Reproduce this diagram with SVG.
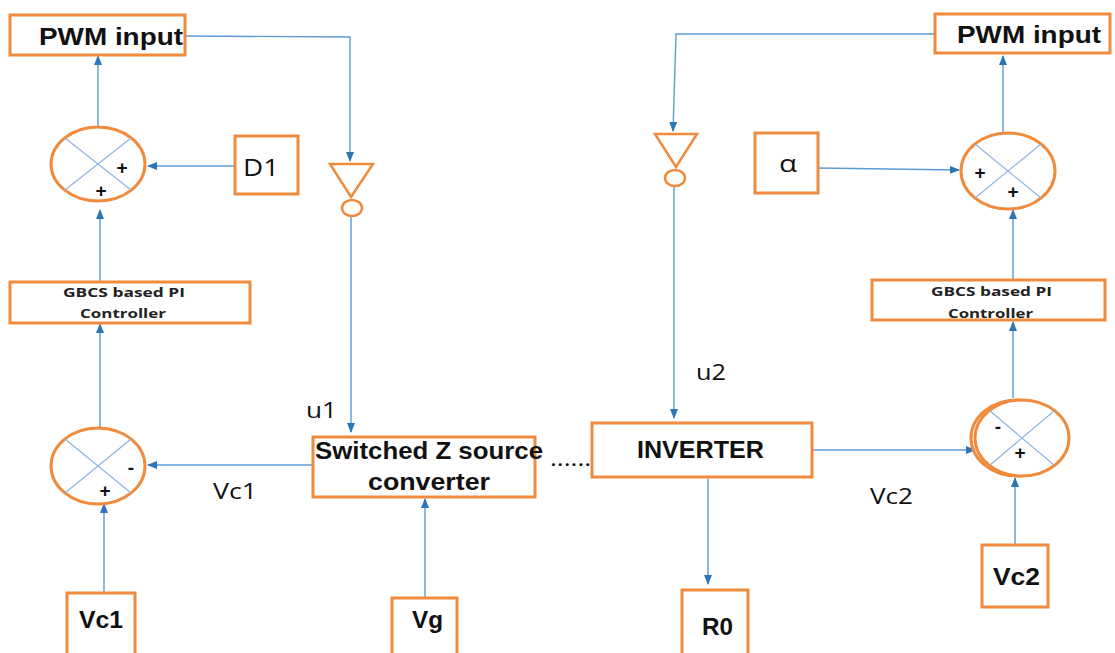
<svg xmlns="http://www.w3.org/2000/svg" width="1115" height="653" viewBox="0 0 1115 653">
  <style>
    .box{fill:#fff;stroke:#F08A3C;stroke-width:3}
    .sum{fill:#fff;stroke:#F08A3C;stroke-width:3}
    .x{stroke:#8DB4E2;stroke-width:1.2}
    .wire{fill:none;stroke:#5B9BD5;stroke-width:1.4}
    .big{font-family:"Liberation Sans",Arial,sans-serif;font-weight:bold;font-size:23px;fill:#111}
    .mid{font-family:"Open Sans","Liberation Sans",sans-serif;font-size:24px;fill:#111}
    .small{font-family:"Open Sans","Liberation Sans",sans-serif;font-weight:bold;font-size:12px;fill:#222}
    .sign{font-family:"Liberation Sans",Arial,sans-serif;font-weight:bold;font-size:19px;fill:#111;text-anchor:middle}
    .lbl{font-family:"Open Sans","Liberation Sans",sans-serif;font-size:22px;fill:#111}
  </style>
  <defs>
    <marker id="arr" markerWidth="10" markerHeight="8" refX="9" refY="4" orient="auto" markerUnits="userSpaceOnUse">
      <path d="M0,0 L10,4 L0,8 Z" fill="#2E75B6"/>
    </marker>
  </defs>
  <rect width="1115" height="653" fill="#fff"/>

  <!-- connectors -->
  <g id="connectors">
    <path class="wire" d="M185,36 L350,37 L350,161" marker-end="url(#arr)"/>
    <path class="wire" d="M351,217 L351,432" marker-end="url(#arr)"/>
    <path class="wire" d="M235,166 L148,166" marker-end="url(#arr)"/>
    <path class="wire" d="M98,126 L98,56" marker-end="url(#arr)"/>
    <path class="wire" d="M100,282 L100,210" marker-end="url(#arr)"/>
    <path class="wire" d="M100,428 L100,324" marker-end="url(#arr)"/>
    <path class="wire" d="M313,465 L148,465" marker-end="url(#arr)"/>
    <path class="wire" d="M104,592 L104,504" marker-end="url(#arr)"/>
    <path class="wire" d="M425,597 L425,499" marker-end="url(#arr)"/>
    <path class="wire" d="M708,479 L708,584" marker-end="url(#arr)"/>
    <path class="wire" d="M935,34 L676,34 L673,131" marker-end="url(#arr)"/>
    <path class="wire" d="M674,187 L674,418" marker-end="url(#arr)"/>
    <path class="wire" d="M812,450 L975,450" marker-end="url(#arr)"/>
    <path class="wire" d="M818,168 L959,170" marker-end="url(#arr)"/>
    <path class="wire" d="M1003,133 L1003,56" marker-end="url(#arr)"/>
    <path class="wire" d="M1013,280 L1013,210" marker-end="url(#arr)"/>
    <path class="wire" d="M1013,398 L1013,322" marker-end="url(#arr)"/>
    <path class="wire" d="M1015,544 L1015,478" marker-end="url(#arr)"/>
  </g>

  <!-- left PWM block -->
  <g id="pwm1">
    <rect class="box" x="10" y="15" width="175" height="40"/>
    <text class="big" x="39" y="45" font-size="24" textLength="144" lengthAdjust="spacingAndGlyphs">PWM input</text>
  </g>
  <g id="buffer1">
    <path d="M330,164 L373,164 L351,197 Z" fill="#fff" stroke="#F08A3C" stroke-width="2.5"/>
    <ellipse cx="352" cy="208" rx="10" ry="8" fill="#fff" stroke="#F08A3C" stroke-width="2.5"/>
  </g>
  <g id="sum1">
    <ellipse class="sum" cx="98" cy="164" rx="47" ry="37"/>
    <line class="x" x1="65" y1="138" x2="131" y2="190"/>
    <line class="x" x1="65" y1="190" x2="131" y2="138"/>
    <text class="sign" x="122" y="174">+</text>
    <text class="sign" x="101" y="197">+</text>
  </g>
  <g id="d1">
    <rect class="box" x="235" y="136" width="63" height="58"/>
    <text class="mid" x="243" y="176" textLength="36" lengthAdjust="spacingAndGlyphs">D1</text>
  </g>
  <g id="pi1">
    <rect class="box" x="10" y="282" width="240" height="41"/>
    <text class="small" x="63" y="297" textLength="122" lengthAdjust="spacingAndGlyphs">GBCS based PI</text>
    <text class="small" x="80" y="318" textLength="86" lengthAdjust="spacingAndGlyphs">Controller</text>
  </g>
  <g id="sum2">
    <ellipse class="sum" cx="98" cy="466" rx="47" ry="38"/>
    <line class="x" x1="65" y1="439" x2="131" y2="493"/>
    <line class="x" x1="65" y1="493" x2="131" y2="439"/>
    <text class="sign" x="131" y="474">-</text>
    <text class="sign" x="105" y="497">+</text>
  </g>
  <text class="lbl" x="213" y="499" textLength="44" lengthAdjust="spacingAndGlyphs">Vc1</text>
  <g id="vc1">
    <rect class="box" x="67" y="593" width="68" height="64"/>
    <text class="big" x="79" y="628" textLength="44" lengthAdjust="spacingAndGlyphs">Vc1</text>
  </g>

  <!-- converter and inverter -->
  <text class="lbl" x="306" y="418" textLength="31" lengthAdjust="spacingAndGlyphs">u1</text>
  <g id="zsource">
    <rect class="box" x="313" y="437" width="222" height="60"/>
    <text class="big" x="315" y="459" font-size="22" textLength="228" lengthAdjust="spacingAndGlyphs">Switched Z source</text>
    <text class="big" x="368" y="490" font-size="22" textLength="122" lengthAdjust="spacingAndGlyphs">converter</text>
  </g>
  <text class="lbl" x="550" y="466" font-size="16" textLength="48" lengthAdjust="spacingAndGlyphs">.......</text>
  <g id="vg">
    <rect class="box" x="392" y="598" width="65" height="59"/>
    <text class="big" x="412" y="628" textLength="31" lengthAdjust="spacingAndGlyphs">Vg</text>
  </g>
  <g id="inverter">
    <rect class="box" x="592" y="423" width="220" height="54"/>
    <text class="big" x="637" y="458" font-size="22" textLength="127" lengthAdjust="spacingAndGlyphs">INVERTER</text>
  </g>
  <g id="r0">
    <rect class="box" x="682" y="590" width="66" height="67"/>
    <text class="big" x="702" y="635" textLength="31" lengthAdjust="spacingAndGlyphs">R0</text>
  </g>
  <text class="lbl" x="696" y="380" textLength="30" lengthAdjust="spacingAndGlyphs">u2</text>

  <!-- right PWM block -->
  <g id="pwm2">
    <rect class="box" x="935" y="14" width="175" height="39"/>
    <text class="big" x="957" y="43" font-size="24" textLength="144" lengthAdjust="spacingAndGlyphs">PWM input</text>
  </g>
  <g id="buffer2">
    <path d="M655,134 L697,134 L676,167 Z" fill="#fff" stroke="#F08A3C" stroke-width="2.5"/>
    <ellipse cx="675" cy="178" rx="10" ry="8" fill="#fff" stroke="#F08A3C" stroke-width="2.5"/>
  </g>
  <g id="alpha">
    <rect class="box" x="755" y="133" width="63" height="60"/>
    <text class="mid" x="779" y="172" font-size="20" textLength="18" lengthAdjust="spacingAndGlyphs">α</text>
  </g>
  <g id="sum3">
    <ellipse class="sum" cx="1008" cy="171" rx="47" ry="38"/>
    <line class="x" x1="975" y1="144" x2="1041" y2="198"/>
    <line class="x" x1="975" y1="198" x2="1041" y2="144"/>
    <text class="sign" x="980" y="179">+</text>
    <text class="sign" x="1013" y="198">+</text>
  </g>
  <g id="pi2">
    <rect class="box" x="872" y="280" width="233" height="40"/>
    <text class="small" x="931" y="296" textLength="121" lengthAdjust="spacingAndGlyphs">GBCS based PI</text>
    <text class="small" x="948" y="318" textLength="85" lengthAdjust="spacingAndGlyphs">Controller</text>
  </g>
  <g id="sum4">
    <ellipse class="sum" cx="1017" cy="438" rx="46" ry="38"/>
    <ellipse class="sum" cx="1022" cy="438" rx="47" ry="38"/>
    <line class="x" x1="990" y1="411" x2="1054" y2="465"/>
    <line class="x" x1="990" y1="465" x2="1054" y2="411"/>
    <text class="sign" x="998" y="433">-</text>
    <text class="sign" x="1020" y="459">+</text>
  </g>
  <text class="lbl" x="870" y="504" textLength="43" lengthAdjust="spacingAndGlyphs">Vc2</text>
  <g id="vc2">
    <rect class="box" x="982" y="545" width="66" height="62"/>
    <text class="big" x="993" y="585" textLength="47" lengthAdjust="spacingAndGlyphs">Vc2</text>
  </g>
</svg>
